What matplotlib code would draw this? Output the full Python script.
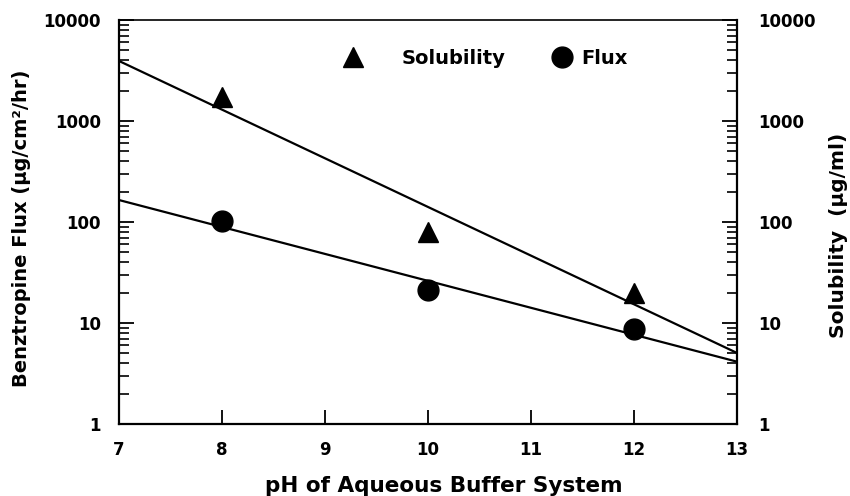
import matplotlib
matplotlib.use("Agg")
import matplotlib.pyplot as plt
from matplotlib.lines import Line2D
from matplotlib.ticker import LogLocator, FixedLocator, NullFormatter

plt.rcParams['font.family'] = ['DejaVu Sans']
plt.rcParams['font.weight'] = 'bold'

# Data
ph = [8, 10, 12]
solubility = [1710, 80, 19.7]
flux = [102, 21.2, 8.7]

# Fitted regression lines (endpoints)
fit_ph = [7, 13]
solubility_fit = [3930, 5.05]
flux_fit = [165, 4.14]

x_ticks = [7, 8, 9, 10, 11, 12, 13]
y_ticks = [1, 10, 100, 1000, 10000]
y_ticklabels = ['1', '10', '100', '1000', '10000']

TFS = 12     # tick labels
LFS = 15.5   # x label
YFS = 14     # left y label
RFS = 14.5   # right y label
GFS = 14     # legend

fig = plt.figure(figsize=(8.5, 4.96), dpi=100)
ax = fig.add_axes([119/850, 1-424/496, (737-119)/850, (424-20)/496])

ax.plot(fit_ph, solubility_fit, color='black', lw=1.6, zorder=2)
ax.plot(fit_ph, flux_fit, color='black', lw=1.6, zorder=2)
ax.plot(ph, solubility, linestyle='none', marker='^', ms=15, color='black', zorder=3)
ax.plot(ph, flux, linestyle='none', marker='o', ms=15, color='black', zorder=3)

ax.set_yscale('log')
ax.set_ylim(1, 10000)
ax.set_xlim(7, 13)

ax.xaxis.set_major_locator(FixedLocator(x_ticks))
ax.set_xticklabels([str(t) for t in x_ticks], fontsize=TFS, fontweight='bold')
ax.yaxis.set_major_locator(FixedLocator(y_ticks))
ax.set_yticklabels(y_ticklabels, fontsize=TFS, fontweight='bold')
ax.yaxis.set_minor_locator(LogLocator(base=10, subs=range(2, 10)))
ax.yaxis.set_minor_formatter(NullFormatter())

ax.tick_params(axis='x', which='major', direction='in', length=10, width=1.3, pad=12, top=False)
ax.tick_params(axis='y', which='major', direction='in', length=11, width=1.3, pad=13)
ax.tick_params(axis='y', which='minor', direction='in', length=7, width=1.2)

for s in ['left', 'right', 'bottom']:
    ax.spines[s].set_linewidth(1.6)
ax.spines['top'].set_linewidth(1.2)

ax.set_xlabel('pH of Aqueous Buffer System', fontsize=LFS, fontweight='bold')
ax.xaxis.set_label_coords((444-119)/618, -(496-424-0.5)/404)
ax.xaxis.label.set_va('bottom')
ax.set_ylabel('Benztropine Flux (µg/cm²/hr)', fontsize=YFS, fontweight='bold')
ax.yaxis.set_label_coords((31-119)/618, (424-228)/404)

ax2 = ax.twinx()
ax2.set_yscale('log')
ax2.set_ylim(1, 10000)
ax2.yaxis.set_major_locator(FixedLocator(y_ticks))
ax2.set_yticklabels(y_ticklabels, fontsize=TFS, fontweight='bold')
ax2.yaxis.set_minor_locator(LogLocator(base=10, subs=range(2, 10)))
ax2.yaxis.set_minor_formatter(NullFormatter())
ax2.tick_params(axis='y', which='major', direction='in', length=11, width=1.3, pad=15)
ax2.tick_params(axis='y', which='minor', direction='in', length=7, width=1.2)
ax2.set_ylabel('Solubility  (µg/ml)', fontsize=RFS, fontweight='bold')
ax2.yaxis.set_label_coords((829-119)/618, (424-235)/404)
for s in ax2.spines.values():
    s.set_visible(False)

h1 = Line2D([], [], linestyle='none', marker='^', ms=15, color='black')
h2 = Line2D([], [], linestyle='none', marker='o', ms=15, color='black')
leg1 = ax.legend([h1], ['Solubility'], loc='center left', bbox_to_anchor=((343-119)/618, (424-58)/404),
                 frameon=False, handlelength=1.0, handletextpad=2.0, borderpad=0, borderaxespad=0,
                 prop={'size': GFS, 'weight': 'bold'})
ax.add_artist(leg1)
leg2 = ax.legend([h2], ['Flux'], loc='center left', bbox_to_anchor=((552-119)/618, (424-58)/404),
                 frameon=False, handlelength=1.0, handletextpad=0.5, borderpad=0, borderaxespad=0,
                 prop={'size': GFS, 'weight': 'bold'})

fig.savefig('out.png', dpi=100)
